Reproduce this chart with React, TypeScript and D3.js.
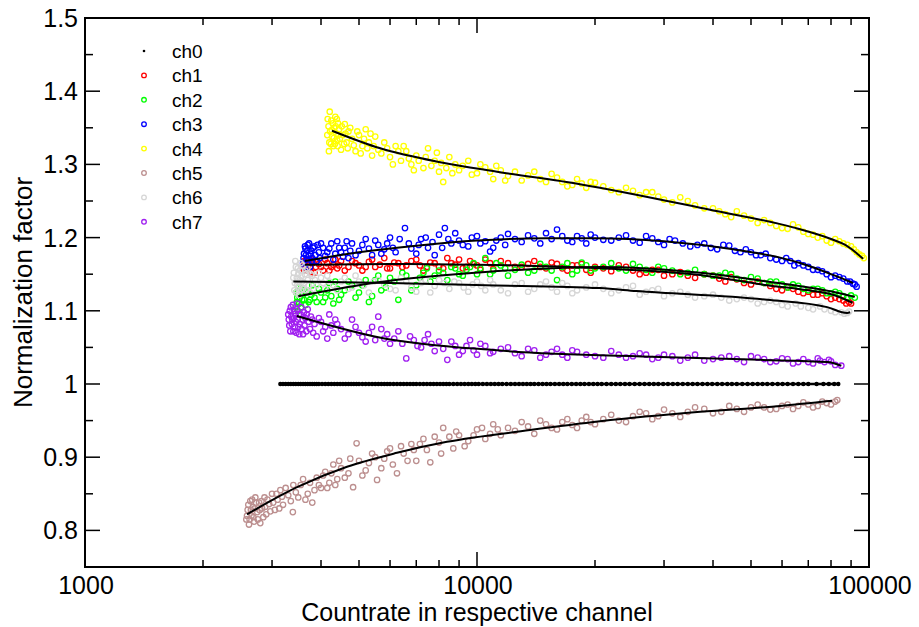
import React from "react";
import * as d3 from "d3";

type P = [number, number];

const channelNames = ["ch0", "ch1", "ch2", "ch3", "ch4", "ch5", "ch6", "ch7"];
const channelColors = ["#000000", "#ff0000", "#00ff00", "#0000ff", "#ffff00", "#bc8f8f", "#d6d6d6", "#a020f0"];

const xMajorTicks = [1000, 10000, 100000];
const xMinorTicks = [2000, 3000, 4000, 5000, 6000, 7000, 8000, 9000, 20000, 30000, 40000, 50000, 60000, 70000, 80000, 90000];
const yMajorTicks = [0.8, 0.9, 1.0, 1.1, 1.2, 1.3, 1.4, 1.5];
const yMinorTicks = [0.85, 0.95, 1.05, 1.15, 1.25, 1.35, 1.45];
const yTickLabels = ["0.8", "0.9", "1", "1.1", "1.2", "1.3", "1.4", "1.5"];

const ch0X = [3150, 3200, 3250, 3300, 3350, 3400, 3450, 3500, 3550, 3600, 3650, 3700, 3750, 3800, 3850, 3900, 3950, 4025, 4100, 4175, 4250, 4325, 4400, 4475, 4550, 4625, 4700, 4775, 4850, 4925, 5000, 5100, 5200, 5300, 5400, 5500, 5600, 5700, 5800, 5900, 6000, 6125, 6250, 6375, 6500, 6625, 6750, 6875, 7000, 7150, 7300, 7450, 7600, 7750, 7900, 8050, 8200, 8350, 8500, 8700, 8900, 9100, 9300, 9500, 9700, 9900, 10100, 10350, 10600, 10850, 11100, 11350, 11600, 11900, 12200, 12500, 12800, 13100, 13400, 13700, 14000, 14350, 14700, 15050, 15400, 15800, 16200, 16600, 17000, 17450, 17900, 18350, 18800, 19300, 19800, 20300, 20800, 21400, 22000, 22600, 23200, 23850, 24500, 25250, 26000, 26750, 27500, 28250, 29000, 29850, 30700, 31600, 32500, 33500, 34500, 35500, 36500, 37600, 38700, 39800, 41000, 42200, 43500, 44700, 46000, 47500, 49000, 50500, 52000, 53500, 55000, 56700, 58500, 60200, 62000, 64000, 66000, 68000, 70000, 73500, 76500, 79000, 81500, 83500];
const ch0Y = 1.0;

const ch1Pts: P[] = [
  [3600, 1.158], [3620, 1.168], [3650, 1.162], [3680, 1.155], [3700, 1.170], [3750, 1.160], [3800, 1.165], [3850, 1.152], [3900, 1.168], [4000, 1.160],
  [4100, 1.170], [4200, 1.155], [4300, 1.163], [4400, 1.158], [4500, 1.168], [4700, 1.160], [4900, 1.165], [5100, 1.155], [5300, 1.167], [5500, 1.160],
  [5800, 1.172], [6000, 1.158], [6300, 1.165], [6600, 1.162], [7000, 1.170], [7300, 1.155], [7600, 1.166], [8000, 1.160], [8400, 1.172], [8800, 1.163],
  [9200, 1.158], [9600, 1.168], [10000, 1.162], [10500, 1.170], [11000, 1.157], [12000, 1.165], [13000, 1.160], [14000, 1.168], [15000, 1.158], [16000, 1.164],
  [17000, 1.155], [18000, 1.162], [19000, 1.156], [20000, 1.160], [22000, 1.154], [24000, 1.160], [26000, 1.150], [28000, 1.156], [30000, 1.148], [33000, 1.153],
  [36000, 1.145], [40000, 1.148], [43000, 1.140], [46000, 1.143], [50000, 1.136], [54000, 1.138], [58000, 1.130], [62000, 1.132], [66000, 1.126], [70000, 1.126],
  [74000, 1.122], [78000, 1.120], [82000, 1.118], [86000, 1.114], [89000, 1.112],
  [3610, 1.162], [3630, 1.155], [3660, 1.168], [3690, 1.160], [3720, 1.165], [3770, 1.153], [3820, 1.170], [3880, 1.160], [3950, 1.164], [4050, 1.155],
  [4150, 1.165], [4250, 1.160], [4350, 1.170], [4450, 1.162], [4600, 1.155], [4800, 1.168], [5000, 1.162], [5200, 1.160], [5400, 1.170], [5650, 1.163],
  [5900, 1.158], [6150, 1.166], [6450, 1.160], [6800, 1.168], [7150, 1.162], [7450, 1.160], [7800, 1.165], [8200, 1.158], [8600, 1.165], [9000, 1.170],
  [9400, 1.160], [9800, 1.164], [10200, 1.156], [10800, 1.165], [11500, 1.168], [12500, 1.160], [13500, 1.164], [14500, 1.160], [15500, 1.166], [16500, 1.158],
  [17500, 1.162], [18500, 1.164], [19500, 1.152], [21000, 1.158], [23000, 1.162], [25000, 1.155], [27000, 1.152], [29000, 1.156], [31500, 1.150], [34500, 1.148],
  [38000, 1.150], [41500, 1.144], [44500, 1.146], [48000, 1.138], [52000, 1.140], [56000, 1.134], [60000, 1.128], [64000, 1.130], [68000, 1.124], [72000, 1.122],
  [76000, 1.124], [80000, 1.116], [84000, 1.116], [87500, 1.110], [90000, 1.110]
];
const ch2Pts: P[] = [
  [3450, 1.105], [3480, 1.118], [3500, 1.125], [3520, 1.110], [3550, 1.130], [3580, 1.115], [3600, 1.122], [3650, 1.108], [3700, 1.128], [3750, 1.115],
  [3800, 1.135], [3900, 1.112], [4000, 1.125], [4100, 1.118], [4200, 1.138], [4300, 1.110], [4400, 1.130], [4500, 1.122], [4700, 1.140], [4900, 1.118],
  [5100, 1.135], [5300, 1.112], [5500, 1.142], [5700, 1.128], [6000, 1.145], [6300, 1.115], [6600, 1.148], [7000, 1.135], [7300, 1.152], [7600, 1.140],
  [8000, 1.155], [8400, 1.142], [8800, 1.158], [9200, 1.148], [9600, 1.160], [10000, 1.150], [10500, 1.172], [11000, 1.155], [11500, 1.162], [12000, 1.148],
  [13000, 1.163], [14000, 1.155], [15000, 1.160], [16000, 1.142], [17000, 1.165], [18000, 1.155], [19000, 1.162], [20000, 1.158], [22000, 1.165], [24000, 1.155],
  [26000, 1.160], [28000, 1.152], [30000, 1.158], [33000, 1.150], [36000, 1.156], [40000, 1.148], [43000, 1.152], [46000, 1.144], [50000, 1.146], [54000, 1.138],
  [58000, 1.140], [62000, 1.132], [66000, 1.134], [70000, 1.128], [74000, 1.130], [78000, 1.124], [82000, 1.126], [86000, 1.120], [90000, 1.121], [92000, 1.118],
  [3460, 1.125], [3470, 1.112], [3490, 1.100], [3510, 1.132], [3530, 1.118], [3560, 1.105], [3590, 1.128], [3620, 1.115], [3670, 1.125], [3720, 1.112],
  [3780, 1.122], [3850, 1.118], [3950, 1.130], [4050, 1.112], [4150, 1.128], [4250, 1.120], [4350, 1.140], [4450, 1.115], [4600, 1.128], [4800, 1.135],
  [5000, 1.125], [5200, 1.142], [5400, 1.120], [5600, 1.148], [5850, 1.132], [6150, 1.140], [6450, 1.152], [6800, 1.128], [7150, 1.145], [7450, 1.158],
  [7800, 1.148], [8200, 1.152], [8600, 1.160], [9000, 1.150], [9400, 1.156], [9800, 1.165], [10200, 1.158], [10800, 1.150], [11200, 1.165], [11800, 1.158],
  [12500, 1.156], [13500, 1.152], [14500, 1.164], [15500, 1.155], [16500, 1.160], [17500, 1.150], [18500, 1.166], [19500, 1.155], [21000, 1.160], [23000, 1.158],
  [25000, 1.164], [27000, 1.156], [29000, 1.160], [31500, 1.155], [34500, 1.152], [38000, 1.150], [41500, 1.148], [44500, 1.150], [48000, 1.142], [52000, 1.144],
  [56000, 1.140], [60000, 1.136], [64000, 1.136], [68000, 1.130], [72000, 1.130], [76000, 1.128], [80000, 1.124], [84000, 1.124], [88000, 1.118]
];
const ch3Pts: P[] = [
  [3600, 1.165], [3620, 1.178], [3650, 1.185], [3680, 1.170], [3700, 1.190], [3720, 1.175], [3750, 1.160], [3780, 1.182], [3800, 1.172], [3850, 1.188],
  [3900, 1.168], [3950, 1.180], [4000, 1.192], [4100, 1.175], [4200, 1.185], [4300, 1.170], [4400, 1.195], [4500, 1.180], [4600, 1.186], [4700, 1.172],
  [4800, 1.192], [5000, 1.182], [5200, 1.198], [5400, 1.176], [5600, 1.190], [5800, 1.184], [6000, 1.200], [6200, 1.180], [6550, 1.213], [6700, 1.192],
  [7000, 1.178], [7200, 1.198], [7500, 1.186], [7800, 1.176], [8000, 1.204], [8280, 1.213], [8600, 1.192], [9000, 1.196], [9500, 1.188], [10000, 1.202],
  [10500, 1.195], [10800, 1.181], [11000, 1.186], [11500, 1.200], [12000, 1.205], [13000, 1.194], [14000, 1.199], [15000, 1.206], [16000, 1.211], [17000, 1.196],
  [18000, 1.202], [19000, 1.192], [20000, 1.200], [22000, 1.196], [24000, 1.203], [26000, 1.193], [28000, 1.199], [30000, 1.190], [32000, 1.196], [35000, 1.188],
  [38000, 1.192], [41000, 1.184], [44000, 1.189], [47000, 1.180], [50000, 1.180], [53000, 1.176], [56000, 1.172], [60000, 1.168], [63000, 1.168], [66000, 1.165],
  [70000, 1.160], [74000, 1.156], [78000, 1.150], [82000, 1.148], [86000, 1.144], [88000, 1.140], [91000, 1.137], [93000, 1.133],
  [3610, 1.172], [3630, 1.160], [3640, 1.188], [3660, 1.176], [3690, 1.182], [3710, 1.165], [3730, 1.192], [3760, 1.178], [3790, 1.168], [3820, 1.186],
  [3870, 1.176], [3920, 1.190], [3970, 1.172], [4050, 1.186], [4150, 1.180], [4250, 1.192], [4350, 1.178], [4450, 1.186], [4550, 1.174], [4650, 1.195],
  [4750, 1.182], [4900, 1.176], [5100, 1.190], [5300, 1.185], [5500, 1.196], [5700, 1.178], [5900, 1.192], [6100, 1.186], [6350, 1.198], [6800, 1.185],
  [7100, 1.190], [7400, 1.200], [7700, 1.194], [8150, 1.186], [8450, 1.198], [8800, 1.206], [9200, 1.190], [9700, 1.200], [10200, 1.192], [11200, 1.196],
  [11800, 1.190], [12500, 1.198], [13500, 1.203], [14500, 1.192], [15500, 1.198], [16500, 1.202], [17500, 1.194], [18500, 1.199], [19500, 1.204], [21000, 1.197],
  [23000, 1.200], [25000, 1.196], [27000, 1.202], [29000, 1.194], [31000, 1.198], [33500, 1.192], [36500, 1.190], [39500, 1.186], [42500, 1.190], [45500, 1.182],
  [48500, 1.184], [51500, 1.176], [54500, 1.178], [58000, 1.170], [61500, 1.172], [64500, 1.162], [68000, 1.162], [72000, 1.156], [76000, 1.154], [80000, 1.146],
  [84000, 1.146], [89500, 1.140], [92000, 1.136]
];
const ch4Pts: P[] = [
  [4150, 1.340], [4180, 1.352], [4200, 1.330], [4220, 1.345], [4250, 1.360], [4270, 1.338], [4300, 1.325], [4320, 1.350], [4350, 1.365], [4380, 1.342],
  [4400, 1.333], [4420, 1.356], [4450, 1.348], [4500, 1.320], [4550, 1.340], [4600, 1.355], [4650, 1.330], [4700, 1.345], [4800, 1.335], [4900, 1.318],
  [5000, 1.340], [5100, 1.325], [5200, 1.348], [5300, 1.330], [5400, 1.312], [5500, 1.338], [5600, 1.320], [5800, 1.330], [6000, 1.310], [6200, 1.325],
  [6400, 1.305], [6600, 1.318], [6800, 1.300], [7000, 1.312], [7300, 1.295], [7500, 1.322], [7800, 1.305], [8000, 1.290], [8200, 1.276], [8500, 1.310],
  [8800, 1.300], [9000, 1.292], [9500, 1.305], [10000, 1.288], [10500, 1.296], [11000, 1.280], [11500, 1.292], [12000, 1.284], [13000, 1.278], [14000, 1.290],
  [15000, 1.276], [16000, 1.282], [17000, 1.270], [18000, 1.280], [19000, 1.268], [20000, 1.275], [22000, 1.265], [24000, 1.268], [26000, 1.258], [28000, 1.262],
  [30000, 1.252], [33000, 1.255], [36000, 1.244], [40000, 1.240], [43000, 1.232], [46000, 1.236], [50000, 1.226], [54000, 1.224], [58000, 1.216], [62000, 1.212],
  [66000, 1.214], [70000, 1.205], [74000, 1.200], [78000, 1.196], [82000, 1.198], [86000, 1.192], [90000, 1.188], [93000, 1.180], [96000, 1.175],
  [4160, 1.362], [4190, 1.318], [4210, 1.372], [4240, 1.328], [4260, 1.347], [4290, 1.356], [4310, 1.336], [4340, 1.328], [4360, 1.352], [4390, 1.362],
  [4410, 1.325], [4430, 1.340], [4470, 1.335], [4520, 1.352], [4580, 1.328], [4620, 1.342], [4680, 1.322], [4750, 1.350], [4850, 1.326], [4950, 1.345],
  [5050, 1.315], [5150, 1.335], [5250, 1.322], [5350, 1.342], [5450, 1.325], [5700, 1.315], [5900, 1.322], [6100, 1.300], [6300, 1.318], [6500, 1.325],
  [6700, 1.308], [6900, 1.292], [7100, 1.305], [7400, 1.310], [7650, 1.298], [7900, 1.316], [8100, 1.302], [8350, 1.295], [8650, 1.288], [9200, 1.298],
  [9700, 1.286], [10200, 1.300], [10800, 1.290], [11200, 1.298], [11800, 1.278], [12500, 1.290], [13500, 1.285], [14500, 1.280], [15500, 1.287], [16500, 1.276],
  [17500, 1.272], [18500, 1.274], [19500, 1.276], [21000, 1.270], [23000, 1.262], [25000, 1.264], [27000, 1.262], [29000, 1.256], [31500, 1.248], [34500, 1.250],
  [38000, 1.240], [41500, 1.236], [44500, 1.228], [48000, 1.230], [52000, 1.220], [56000, 1.220], [60000, 1.213], [64000, 1.218], [68000, 1.208], [72000, 1.204],
  [76000, 1.202], [80000, 1.193], [84000, 1.195], [88000, 1.190], [91500, 1.184], [94500, 1.177], [97000, 1.172]
];
const ch5Pts: P[] = [
  [2580, 0.815], [2600, 0.828], [2620, 0.808], [2640, 0.840], [2660, 0.820], [2680, 0.832], [2700, 0.812], [2720, 0.845], [2750, 0.825], [2780, 0.838],
  [2800, 0.810], [2830, 0.830], [2870, 0.845], [2900, 0.822], [2950, 0.836], [3000, 0.850], [3050, 0.828], [3100, 0.842], [3150, 0.855], [3200, 0.835],
  [3300, 0.848], [3390, 0.825], [3400, 0.862], [3500, 0.845], [3600, 0.870], [3700, 0.850], [3800, 0.838], [3900, 0.872], [4000, 0.858], [4100, 0.880],
  [4200, 0.865], [4300, 0.890], [4400, 0.870], [4500, 0.885], [4700, 0.878], [4830, 0.859], [4930, 0.919], [5000, 0.895], [5200, 0.882], [5400, 0.905],
  [5560, 0.869], [5800, 0.898], [6000, 0.912], [6250, 0.878], [6500, 0.905], [6800, 0.918], [7000, 0.895], [7300, 0.925], [7600, 0.893], [8000, 0.920],
  [8200, 0.940], [8700, 0.912], [9000, 0.930], [9500, 0.922], [10000, 0.938], [10500, 0.925], [11000, 0.945], [11500, 0.930], [12000, 0.940], [13000, 0.948],
  [14000, 0.932], [15000, 0.945], [16000, 0.938], [17000, 0.952], [18000, 0.940], [19000, 0.955], [20000, 0.945], [22000, 0.958], [24000, 0.948], [26000, 0.962],
  [28000, 0.952], [30000, 0.965], [33000, 0.955], [36000, 0.968], [40000, 0.960], [44000, 0.970], [48000, 0.962], [52000, 0.972], [56000, 0.965], [60000, 0.970],
  [64000, 0.966], [68000, 0.975], [72000, 0.968], [76000, 0.976], [80000, 0.972], [83000, 0.978],
  [2590, 0.820], [2610, 0.835], [2630, 0.815], [2650, 0.828], [2670, 0.842], [2690, 0.818], [2710, 0.830], [2730, 0.838], [2760, 0.815], [2790, 0.828],
  [2820, 0.840], [2850, 0.818], [2880, 0.832], [2920, 0.842], [2970, 0.826], [3020, 0.838], [3080, 0.850], [3130, 0.830], [3180, 0.846], [3250, 0.858],
  [3350, 0.840], [3450, 0.852], [3550, 0.862], [3650, 0.842], [3750, 0.865], [3850, 0.855], [3950, 0.862], [4050, 0.875], [4150, 0.858], [4250, 0.878],
  [4350, 0.862], [4450, 0.895], [4600, 0.872], [4750, 0.898], [5100, 0.875], [5300, 0.892], [5500, 0.900], [5700, 0.885], [5900, 0.908], [6100, 0.890],
  [6400, 0.915], [6650, 0.895], [6900, 0.910], [7150, 0.918], [7450, 0.910], [7800, 0.928], [8100, 0.905], [8500, 0.928], [8850, 0.935], [9300, 0.915],
  [9800, 0.930], [10300, 0.940], [10800, 0.932], [11300, 0.938], [12500, 0.936], [13500, 0.942], [14500, 0.950], [15500, 0.940], [16500, 0.948], [17500, 0.944],
  [18500, 0.950], [19500, 0.948], [21000, 0.952], [23000, 0.950], [25000, 0.956], [27000, 0.960], [29000, 0.956], [31500, 0.960], [34500, 0.962], [38000, 0.966],
  [42000, 0.962], [46000, 0.966], [50000, 0.968], [54000, 0.968], [58000, 0.966], [62000, 0.972], [66000, 0.970], [70000, 0.972], [74000, 0.970], [78000, 0.974],
  [82000, 0.976]
];
const ch6Pts: P[] = [
  [3400, 1.145], [3420, 1.128], [3450, 1.160], [3480, 1.135], [3500, 1.150], [3520, 1.122], [3550, 1.165], [3580, 1.140], [3600, 1.130], [3650, 1.155],
  [3700, 1.142], [3750, 1.125], [3800, 1.148], [3900, 1.135], [4000, 1.145], [4100, 1.130], [4200, 1.140], [4400, 1.128], [4600, 1.145], [4800, 1.132],
  [5000, 1.140], [5300, 1.125], [5600, 1.142], [6000, 1.130], [6400, 1.145], [6800, 1.132], [7200, 1.138], [7600, 1.125], [8000, 1.142], [8500, 1.130],
  [9000, 1.138], [9500, 1.126], [10000, 1.140], [10500, 1.128], [11000, 1.136], [12000, 1.124], [13000, 1.138], [14000, 1.130], [15000, 1.140], [16000, 1.126],
  [17000, 1.134], [18000, 1.128], [20000, 1.136], [22000, 1.124], [24000, 1.132], [26000, 1.122], [28000, 1.128], [30000, 1.120], [33000, 1.126], [36000, 1.118],
  [40000, 1.122], [44000, 1.114], [48000, 1.118], [52000, 1.110], [56000, 1.114], [60000, 1.108], [65000, 1.110], [70000, 1.104], [75000, 1.106], [80000, 1.100],
  [85000, 1.098], [88000, 1.097],
  [3410, 1.152], [3430, 1.138], [3440, 1.168], [3460, 1.125], [3470, 1.145], [3490, 1.158], [3510, 1.132], [3530, 1.142], [3540, 1.155], [3560, 1.128],
  [3570, 1.148], [3590, 1.162], [3620, 1.138], [3640, 1.150], [3670, 1.128], [3690, 1.158], [3720, 1.135], [3770, 1.150], [3820, 1.130], [3860, 1.142],
  [3950, 1.152], [4050, 1.138], [4150, 1.148], [4300, 1.135], [4500, 1.140], [4700, 1.130], [4900, 1.148], [5150, 1.135], [5450, 1.140], [5800, 1.136],
  [6200, 1.128], [6600, 1.140], [7000, 1.126], [7400, 1.142], [7800, 1.134], [8250, 1.138], [8750, 1.140], [9250, 1.132], [9750, 1.136], [10250, 1.134],
  [10800, 1.142], [11500, 1.128], [12500, 1.136], [13500, 1.126], [14500, 1.136], [15500, 1.132], [16500, 1.138], [17500, 1.124], [19000, 1.132], [21000, 1.130],
  [23000, 1.128], [25000, 1.134], [27000, 1.126], [29000, 1.130], [31500, 1.124], [34500, 1.122], [38000, 1.120], [42000, 1.118], [46000, 1.116], [50000, 1.116],
  [54000, 1.112], [58000, 1.112], [62000, 1.106], [67000, 1.106], [72000, 1.102], [77000, 1.102], [82000, 1.098], [86500, 1.096], [89000, 1.099]
];
const ch7Pts: P[] = [
  [3300, 1.095], [3320, 1.080], [3350, 1.105], [3380, 1.088], [3400, 1.072], [3420, 1.100], [3450, 1.085], [3480, 1.110], [3500, 1.078], [3550, 1.095],
  [3600, 1.068], [3650, 1.090], [3700, 1.102], [3750, 1.075], [3800, 1.088], [3900, 1.065], [4000, 1.085], [4100, 1.078], [4200, 1.095], [4300, 1.070],
  [4400, 1.082], [4600, 1.062], [4800, 1.088], [5000, 1.070], [5200, 1.058], [5400, 1.078], [5600, 1.092], [5800, 1.062], [6000, 1.055], [6300, 1.072],
  [6600, 1.035], [6900, 1.060], [7200, 1.050], [7500, 1.068], [7800, 1.045], [8000, 1.058], [8400, 1.033], [8800, 1.052], [9200, 1.045], [9600, 1.060],
  [10000, 1.040], [10500, 1.052], [11000, 1.044], [12000, 1.050], [13000, 1.038], [14000, 1.046], [15000, 1.040], [16000, 1.048], [17000, 1.036], [18000, 1.044],
  [20000, 1.038], [22000, 1.045], [24000, 1.036], [26000, 1.042], [28000, 1.034], [30000, 1.040], [33000, 1.032], [36000, 1.040], [40000, 1.034], [44000, 1.038],
  [48000, 1.030], [52000, 1.036], [56000, 1.030], [60000, 1.035], [64000, 1.028], [68000, 1.034], [72000, 1.028], [75000, 1.032], [80000, 1.031], [82000, 1.026],
  [85000, 1.025],
  [3310, 1.088], [3330, 1.100], [3340, 1.072], [3360, 1.092], [3370, 1.082], [3390, 1.108], [3410, 1.090], [3430, 1.078], [3440, 1.096], [3460, 1.070],
  [3470, 1.102], [3490, 1.088], [3510, 1.095], [3520, 1.068], [3530, 1.082], [3560, 1.105], [3570, 1.075], [3590, 1.088], [3620, 1.098], [3630, 1.080],
  [3670, 1.072], [3680, 1.095], [3720, 1.085], [3770, 1.092], [3820, 1.070], [3850, 1.082], [3950, 1.090], [4050, 1.072], [4150, 1.062], [4250, 1.080],
  [4350, 1.088], [4500, 1.075], [4700, 1.068], [4900, 1.078], [5100, 1.064], [5300, 1.070], [5500, 1.060], [5700, 1.075], [5900, 1.068], [6150, 1.062],
  [6450, 1.055], [6750, 1.065], [7050, 1.052], [7350, 1.060], [7650, 1.055], [8200, 1.048], [8600, 1.058], [9000, 1.040], [9400, 1.052], [9800, 1.046],
  [10200, 1.055], [10800, 1.042], [11500, 1.048], [12500, 1.042], [13500, 1.048], [14500, 1.036], [15500, 1.044], [16500, 1.040], [17500, 1.046], [19000, 1.040],
  [21000, 1.036], [23000, 1.040], [25000, 1.038], [27000, 1.040], [29000, 1.036], [31500, 1.038], [34500, 1.036], [38000, 1.032], [42000, 1.036], [46000, 1.034],
  [50000, 1.038], [54000, 1.034], [58000, 1.031], [62000, 1.034], [66000, 1.030], [70000, 1.030], [74000, 1.035], [77000, 1.030], [79000, 1.033]
];

const fit0: P[] = [[3150, 1.0], [83500, 1.0]];
const fit1: P[] = [[3640, 1.163], [6000, 1.164], [10000, 1.163], [20600, 1.158], [37100, 1.149], [55000, 1.135], [70000, 1.128], [80900, 1.122], [90800, 1.111]];
const fit2: P[] = [[3500, 1.12], [5600, 1.139], [10500, 1.153], [20600, 1.16], [37100, 1.152], [55000, 1.14], [80900, 1.126], [92000, 1.119]];
const fit3: P[] = [[3640, 1.168], [5000, 1.18], [7000, 1.189], [10000, 1.196], [15000, 1.199], [20000, 1.199], [30000, 1.195], [45000, 1.184], [60000, 1.172], [67000, 1.165], [81000, 1.149], [91000, 1.138]];
const fit4: P[] = [[4266, 1.346], [5662, 1.322], [8054, 1.303], [11250, 1.29], [18310, 1.273], [39300, 1.238], [64000, 1.214], [81000, 1.197], [87000, 1.19], [96600, 1.171]];
const fit5: P[] = [[2590, 0.822], [3475, 0.859], [4660, 0.887], [6250, 0.906], [8380, 0.921], [13650, 0.937], [20600, 0.949], [37100, 0.962], [59300, 0.97], [80500, 0.977]];
const fit6: P[] = [[3400, 1.14], [6000, 1.138], [10500, 1.135], [20600, 1.131], [25500, 1.127], [55000, 1.115], [78200, 1.105], [87900, 1.097], [89500, 1.098]];
const fit7: P[] = [[3470, 1.093], [5600, 1.064], [11250, 1.046], [29300, 1.037], [52700, 1.033], [78200, 1.03], [85000, 1.025]];

const W = 919;
const H = 627;
const L = 85, R = 869, T = 18, B = 567;
const FONT = "'Liberation Sans', Arial, Helvetica, sans-serif";

export default function App() {
  const x = d3.scaleLog().domain([1000, 100000]).range([L, R]);
  const y = d3.scaleLinear().domain([0.75, 1.5]).range([B, T]);
  const line = d3.line<P>().x(d => x(d[0])).y(d => y(d[1])).curve(d3.curveMonotoneX);

  const series: { idx: number; pts: P[] }[] = [
    { idx: 1, pts: ch1Pts },
    { idx: 2, pts: ch2Pts },
    { idx: 3, pts: ch3Pts },
    { idx: 4, pts: ch4Pts },
    { idx: 5, pts: ch5Pts },
    { idx: 6, pts: ch6Pts },
    { idx: 7, pts: ch7Pts },
  ];
  const fits = [fit0, fit1, fit2, fit3, fit4, fit5, fit6, fit7];

  return (
    <svg width={W} height={H} style={{ position: "absolute", left: 0, top: 0, background: "#fff" }} fontFamily={FONT}>
      <rect x={0} y={0} width={W} height={H} fill="#fff" />
      <g>
        {ch0X.map((v, i) => (
          <circle key={i} cx={x(v)} cy={y(ch0Y)} r={2.2} fill="#000" />
        ))}
      </g>
      {series.map(s => (
        <g key={s.idx} fill="none" stroke={channelColors[s.idx]} strokeWidth={1.3}>
          {s.pts.map((p, i) => (
            <circle key={i} cx={x(p[0])} cy={y(p[1])} r={2.7} />
          ))}
        </g>
      ))}
      {fits.map((f, i) => (
        <path key={i} d={line(f) || ""} fill="none" stroke="#000" strokeWidth={i === 0 ? 2.5 : 2} />
      ))}
      <rect x={L} y={T} width={R - L} height={B - T} fill="none" stroke="#000" strokeWidth={2} />
      {xMajorTicks.map(t => (
        <g key={"xM" + t} stroke="#000" strokeWidth={1.5}>
          <line x1={x(t)} x2={x(t)} y1={B} y2={B - 15} />
          <line x1={x(t)} x2={x(t)} y1={T} y2={T + 15} />
        </g>
      ))}
      {xMinorTicks.map(t => (
        <g key={"xm" + t} stroke="#000" strokeWidth={1.5}>
          <line x1={x(t)} x2={x(t)} y1={B} y2={B - 7} />
          <line x1={x(t)} x2={x(t)} y1={T} y2={T + 7} />
        </g>
      ))}
      {xMajorTicks.map(t => (
        <text key={"xl" + t} x={x(t) + 1} y={594} textAnchor="middle" fontSize={25} fill="#000">
          {String(t)}
        </text>
      ))}
      {yMajorTicks.map(t => (
        <g key={"yM" + t} stroke="#000" strokeWidth={1.5}>
          <line x1={L} x2={L + 15} y1={y(t)} y2={y(t)} />
          <line x1={R} x2={R - 15} y1={y(t)} y2={y(t)} />
        </g>
      ))}
      {yMinorTicks.map(t => (
        <g key={"ym" + t} stroke="#000" strokeWidth={1.5}>
          <line x1={L} x2={L + 8} y1={y(t)} y2={y(t)} />
          <line x1={R} x2={R - 8} y1={y(t)} y2={y(t)} />
        </g>
      ))}
      {yMajorTicks.map((t, i) => (
        <text key={"yl" + t} x={78} y={y(t) + 9} textAnchor="end" fontSize={25} fill="#000">
          {yTickLabels[i]}
        </text>
      ))}
      <text x={(L + R) / 2} y={621} textAnchor="middle" fontSize={25} fill="#000">
        Countrate in respective channel
      </text>
      <text transform={`translate(32, ${(T + B) / 2}) rotate(-90)`} textAnchor="middle" fontSize={26} fill="#000">
        Normalization factor
      </text>
      {channelNames.map((n, i) => (
        <g key={n}>
          {i === 0 ? (
            <circle cx={144} cy={51 + i * 24.4} r={1.3} fill="#000" />
          ) : (
            <circle cx={144} cy={51 + i * 24.4} r={2.3} fill="none" stroke={channelColors[i]} strokeWidth={1.3} />
          )}
          <text x={172} y={51 + i * 24.4 + 7} fontSize={19} fill="#000">
            {n}
          </text>
        </g>
      ))}
    </svg>
  );
}
